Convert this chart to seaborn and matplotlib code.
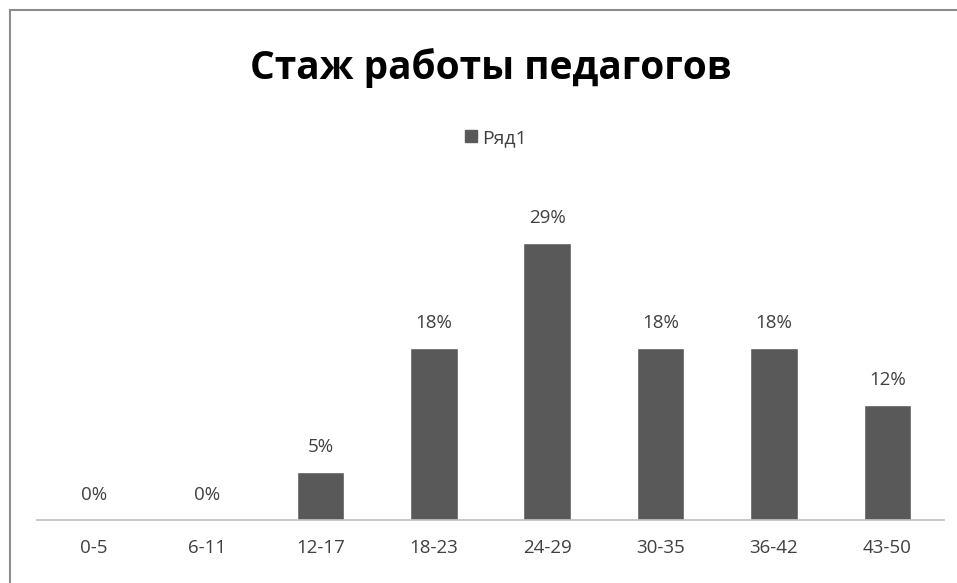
import seaborn as sns
import matplotlib.pyplot as plt
import matplotlib.patches as mpatches
import pandas as pd

# data
categories = ["0-5", "6-11", "12-17", "18-23", "24-29", "30-35", "36-42", "43-50"]
values = [0, 0, 5, 18, 29, 18, 18, 12]
series_name = "Ряд1"

df = pd.DataFrame({"cat": categories, "val": values})

sns.set_style("white")
plt.rcParams['font.family'] = ['Open Sans', 'DejaVu Sans']

fig = plt.figure(figsize=(9.57, 5.83), dpi=100)
ax = fig.add_axes([37 / 957, 63 / 583, 907 / 957, 334 / 583])

bar_color = "#595959"
sns.barplot(data=df, x="cat", y="val", color=bar_color, width=0.42, ax=ax,
            saturation=1)

for i, v in enumerate(values):
    ax.text(i, v + 1.7, f"{v}%", ha="center", va="bottom", fontsize=13.5, color="#404040")

ax.set_ylim(0, 35)
ax.set_xlim(-0.5, len(categories) - 0.5)
ax.set_xlabel("")
ax.set_ylabel("")
ax.set_yticks([])
ax.tick_params(axis="x", length=0, pad=14, labelsize=13.5, labelcolor="#404040")
for s in ["top", "right", "left"]:
    ax.spines[s].set_visible(False)
ax.spines["bottom"].set_color("#bfbfbf")
ax.spines["bottom"].set_linewidth(1.2)

fig.text(491 / 957, 1 - 68 / 583, "Стаж работы педагогов", ha="center", va="center",
         fontsize=28, fontweight="bold", color="#000000")

handle = mpatches.Patch(color=bar_color, label=series_name)
fig.legend(handles=[handle], loc="center", bbox_to_anchor=(496 / 957, 1 - 138 / 583),
           frameon=False, fontsize=14, handlelength=0.6, handleheight=0.6,
           handletextpad=0.3, labelcolor="#404040")

# chart border
fig.patches.append(mpatches.Rectangle((10 / 957, -0.1), 1.2, 1 - 10 / 583 + 0.1,
                                      transform=fig.transFigure, fill=False,
                                      edgecolor="#8c8c8c", linewidth=1.5))

fig.savefig("out.png", dpi=100)
